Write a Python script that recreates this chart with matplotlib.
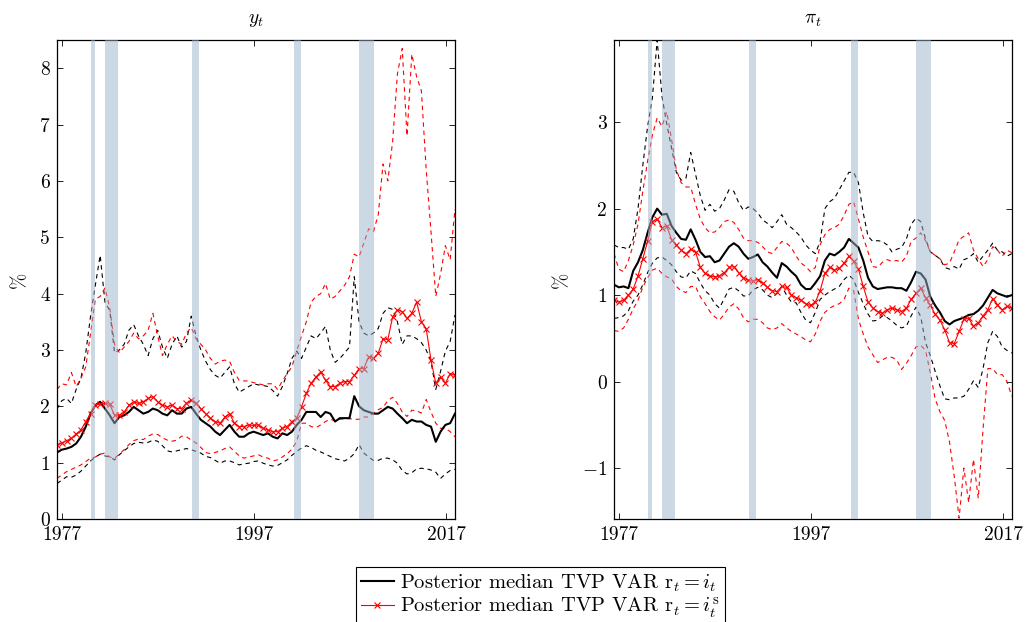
import matplotlib.pyplot as plt
import numpy as np

plt.rcParams['font.family'] = 'serif'
plt.rcParams['font.serif'] = ['cmr10']
plt.rcParams['mathtext.fontset'] = 'cm'
plt.rcParams['axes.unicode_minus'] = False

# half-year observations, 1976:H2 .. 2017:H2
dates = np.linspace(1976.5, 2017.9, 84)

# NBER recessions
recessions = [(1980.0, 1980.5), (1981.5, 1982.85), (1990.55, 1991.25),
              (2001.2, 2001.9), (2007.95, 2009.5)]

# y_t panel, r_t = i_t (black)
y_med_i = [1.18, 1.23, 1.25, 1.28, 1.34, 1.46, 1.64, 1.87, 2.02, 2.08,
           1.96, 1.84, 1.70, 1.81, 1.84, 1.90, 1.99, 1.93, 1.87, 1.90,
           1.96, 1.93, 1.87, 1.84, 1.93, 1.87, 1.87, 1.96, 1.99, 1.87,
           1.76, 1.70, 1.64, 1.55, 1.49, 1.58, 1.67, 1.55, 1.46, 1.46,
           1.52, 1.55, 1.52, 1.49, 1.52, 1.46, 1.43, 1.52, 1.49, 1.55,
           1.67, 1.76, 1.90, 1.90, 1.90, 1.81, 1.90, 1.87, 1.73, 1.79,
           1.79, 1.79, 2.18, 2.00, 1.93, 1.90, 1.87, 1.87, 1.93, 1.99,
           1.96, 1.87, 1.79, 1.70, 1.76, 1.73, 1.73, 1.67, 1.64, 1.37,
           1.55, 1.67, 1.70, 1.87]
y_lo_i = [0.63, 0.69, 0.75, 0.74, 0.78, 0.85, 0.94, 1.03, 1.10, 1.15,
          1.12, 1.10, 1.05, 1.14, 1.21, 1.28, 1.34, 1.36, 1.35, 1.36,
          1.40, 1.38, 1.30, 1.21, 1.19, 1.21, 1.23, 1.25, 1.23, 1.20,
          1.17, 1.11, 1.09, 1.04, 0.99, 1.03, 1.03, 1.00, 0.96, 0.98,
          0.99, 1.02, 1.03, 0.99, 0.96, 0.94, 0.95, 1.00, 1.05, 1.13,
          1.20, 1.26, 1.30, 1.27, 1.22, 1.19, 1.15, 1.11, 1.07, 1.05,
          1.03, 1.08, 1.16, 1.32, 1.17, 1.10, 1.04, 1.04, 1.08, 1.08,
          1.05, 0.99, 0.86, 0.80, 0.82, 0.89, 0.90, 0.89, 0.87, 0.83,
          0.72, 0.80, 0.86, 0.88]
y_hi_i = [1.95, 2.10, 2.14, 2.05, 2.30, 2.50, 2.95, 3.60, 4.15, 4.68,
          3.85, 3.70, 2.95, 3.00, 3.10, 3.35, 3.45, 3.25, 3.10, 2.90,
          3.20, 3.35, 3.05, 2.85, 3.10, 3.25, 3.05, 3.15, 3.60, 3.25,
          3.00, 2.80, 2.65, 2.55, 2.50, 2.60, 2.70, 2.40, 2.25, 2.30,
          2.35, 2.40, 2.38, 2.37, 2.35, 2.28, 2.18, 2.35, 2.58, 2.85,
          2.98, 2.85, 3.05, 3.25, 3.20, 3.30, 3.42, 3.00, 2.78, 2.85,
          2.95, 3.05, 4.30, 3.50, 3.30, 3.25, 3.30, 3.38, 3.65, 3.75,
          3.72, 3.50, 3.10, 3.25, 3.25, 3.20, 3.13, 3.00, 2.80, 2.30,
          2.62, 2.98, 3.15, 3.62]

# y_t panel, r_t = i_t^s (red)
y_med_s = [1.31, 1.35, 1.39, 1.43, 1.51, 1.58, 1.73, 1.87, 2.02, 2.04,
           2.05, 2.04, 1.84, 1.84, 1.90, 2.02, 2.08, 2.05, 2.08, 2.14,
           2.17, 2.08, 2.02, 1.99, 2.02, 1.96, 1.96, 2.05, 2.11, 2.05,
           1.96, 1.87, 1.79, 1.73, 1.70, 1.81, 1.87, 1.70, 1.64, 1.64,
           1.67, 1.66, 1.67, 1.61, 1.58, 1.55, 1.55, 1.61, 1.64, 1.73,
           1.79, 1.99, 2.23, 2.41, 2.52, 2.61, 2.46, 2.35, 2.35, 2.41,
           2.44, 2.44, 2.55, 2.67, 2.67, 2.88, 2.85, 2.94, 3.20, 3.18,
           3.59, 3.71, 3.68, 3.56, 3.65, 3.85, 3.50, 3.38, 2.82, 2.41,
           2.52, 2.41, 2.58, 2.55]
y_lo_s = [0.72, 0.78, 0.84, 0.88, 0.92, 0.96, 1.02, 1.08, 1.10, 1.15,
          1.17, 1.10, 1.08, 1.15, 1.23, 1.32, 1.39, 1.42, 1.41, 1.47,
          1.51, 1.50, 1.44, 1.40, 1.38, 1.40, 1.47, 1.46, 1.40, 1.35,
          1.27, 1.18, 1.16, 1.18, 1.21, 1.25, 1.28, 1.20, 1.12, 1.08,
          1.10, 1.12, 1.14, 1.10, 1.08, 1.03, 1.05, 1.10, 1.16, 1.24,
          1.38, 1.70, 1.70, 1.64, 1.62, 1.67, 1.73, 1.77, 1.74, 1.77,
          1.78, 1.78, 1.77, 1.77, 1.81, 1.81, 1.88, 1.94, 1.98, 2.10,
          2.16, 2.05, 1.90, 1.82, 1.93, 1.92, 1.88, 2.12, 1.90, 1.70,
          1.61, 1.61, 1.55, 1.46]
y_hi_s = [2.30, 2.40, 2.38, 2.60, 2.35, 2.50, 2.70, 3.30, 3.90, 3.95,
          4.10, 3.75, 3.10, 2.95, 3.05, 3.15, 3.30, 3.20, 3.25, 3.35,
          3.65, 3.25, 2.90, 3.10, 3.25, 3.15, 3.10, 3.30, 3.40, 3.20,
          3.10, 3.00, 2.85, 2.75, 2.80, 2.82, 2.80, 2.60, 2.46, 2.45,
          2.45, 2.42, 2.40, 2.38, 2.40, 2.40, 2.30, 2.45, 2.58, 2.70,
          2.98, 3.25, 3.50, 3.85, 3.95, 4.00, 4.18, 3.90, 3.95, 4.05,
          4.15, 4.30, 4.70, 4.65, 4.90, 5.15, 5.10, 5.40, 6.30, 6.00,
          6.70, 7.90, 8.35, 6.80, 8.25, 7.85, 7.60, 6.20, 5.10, 3.95,
          4.35, 4.85, 4.60, 5.50]

# pi_t panel, r_t = i_t (black)
pi_med_i = [1.12, 1.09, 1.10, 1.08, 1.28, 1.38, 1.52, 1.72, 1.90, 2.00,
            1.93, 1.94, 1.80, 1.72, 1.65, 1.64, 1.76, 1.64, 1.50, 1.44,
            1.45, 1.38, 1.40, 1.48, 1.56, 1.60, 1.56, 1.48, 1.42, 1.44,
            1.47, 1.38, 1.33, 1.26, 1.20, 1.37, 1.33, 1.27, 1.22, 1.12,
            1.07, 1.07, 1.14, 1.22, 1.40, 1.48, 1.46, 1.50, 1.55, 1.65,
            1.60, 1.55, 1.40, 1.20, 1.10, 1.07, 1.08, 1.09, 1.09, 1.08,
            1.08, 1.05, 1.15, 1.27, 1.25, 1.18, 0.98, 0.88, 0.80, 0.70,
            0.66, 0.70, 0.72, 0.74, 0.77, 0.78, 0.82, 0.88, 0.97, 1.06,
            1.02, 1.00, 0.98, 1.00]
pi_lo_i = [0.73, 0.74, 0.76, 0.82, 0.93, 1.00, 1.12, 1.26, 1.37, 1.43,
           1.44, 1.40, 1.35, 1.27, 1.21, 1.20, 1.28, 1.25, 1.14, 1.05,
           1.00, 0.90, 0.85, 0.96, 1.07, 1.09, 1.05, 0.99, 0.99, 1.06,
           1.09, 1.06, 1.00, 0.97, 1.02, 1.10, 1.00, 0.92, 0.91, 0.80,
           0.71, 0.68, 0.80, 0.95, 1.00, 1.04, 1.07, 1.10, 1.18, 1.23,
           1.18, 1.03, 0.90, 0.78, 0.70, 0.71, 0.76, 0.74, 0.70, 0.65,
           0.62, 0.64, 0.76, 0.86, 0.75, 0.45, 0.30, 0.12, -0.05, -0.20,
           -0.21, -0.19, -0.19, -0.17, -0.09, 0.01, -0.07, 0.15, 0.45, 0.58,
           0.52, 0.40, 0.36, 0.33]
pi_hi_i = [1.58, 1.55, 1.55, 1.53, 1.65, 2.00, 2.50, 2.95, 3.28, 3.95,
           3.30, 2.98, 2.70, 2.42, 2.33, 2.35, 2.65, 2.40, 2.15, 1.98,
           2.05, 1.97, 2.00, 2.10, 2.22, 2.20, 2.07, 1.98, 2.02, 2.00,
           1.95, 1.87, 1.83, 1.78, 1.85, 1.93, 1.82, 1.78, 1.73, 1.67,
           1.58, 1.52, 1.48, 1.62, 2.00, 2.08, 2.12, 2.22, 2.32, 2.42,
           2.42, 2.30, 1.95, 1.68, 1.62, 1.63, 1.62, 1.58, 1.50, 1.53,
           1.55, 1.65, 1.82, 1.89, 1.85, 1.65, 1.50, 1.46, 1.42, 1.32,
           1.30, 1.33, 1.30, 1.41, 1.43, 1.48, 1.38, 1.45, 1.52, 1.60,
           1.52, 1.50, 1.45, 1.48]

# pi_t panel, r_t = i_t^s (red)
pi_med_s = [0.94, 0.92, 0.94, 1.00, 1.07, 1.22, 1.42, 1.62, 1.85, 1.88,
            1.78, 1.80, 1.64, 1.58, 1.52, 1.48, 1.53, 1.50, 1.32, 1.25,
            1.22, 1.21, 1.22, 1.26, 1.32, 1.33, 1.26, 1.20, 1.17, 1.16,
            1.18, 1.14, 1.09, 1.05, 1.04, 1.10, 1.09, 1.00, 0.97, 0.94,
            0.90, 0.88, 0.92, 1.05, 1.25, 1.32, 1.29, 1.31, 1.37, 1.45,
            1.39, 1.30, 1.10, 0.92, 0.85, 0.81, 0.79, 0.83, 0.85, 0.83,
            0.81, 0.85, 0.95, 1.02, 1.08, 0.97, 0.88, 0.78, 0.71, 0.60,
            0.45, 0.44, 0.58, 0.72, 0.73, 0.64, 0.68, 0.76, 0.83, 0.96,
            0.89, 0.83, 0.87, 0.85]
pi_lo_s = [0.59, 0.58, 0.62, 0.72, 0.84, 0.94, 1.09, 1.20, 1.29, 1.31,
           1.25, 1.21, 1.19, 1.10, 1.05, 1.03, 1.10, 1.10, 0.98, 0.90,
           0.81, 0.75, 0.71, 0.78, 0.86, 0.90, 0.84, 0.74, 0.69, 0.72,
           0.72, 0.68, 0.62, 0.60, 0.62, 0.67, 0.62, 0.58, 0.55, 0.52,
           0.48, 0.46, 0.55, 0.70, 0.80, 0.85, 0.88, 0.90, 0.95, 1.08,
           1.05, 0.72, 0.55, 0.40, 0.31, 0.22, 0.25, 0.28, 0.28, 0.25,
           0.14, 0.21, 0.30, 0.40, 0.42, 0.36, 0.10, -0.20, -0.35, -0.45,
           -0.70, -1.10, -1.58, -1.00, -1.40, -0.90, -1.35, -0.55, 0.15, 0.15,
           0.08, 0.08, 0.00, -0.17]
pi_hi_s = [1.48, 1.30, 1.27, 1.40, 1.58, 1.82, 2.20, 2.55, 2.85, 3.05,
           2.95, 3.12, 2.80, 2.45, 2.30, 2.25, 2.25, 2.05, 1.88, 1.78,
           1.72, 1.73, 1.78, 1.85, 1.87, 1.84, 1.76, 1.66, 1.63, 1.63,
           1.61, 1.56, 1.50, 1.48, 1.55, 1.62, 1.60, 1.55, 1.45, 1.37,
           1.33, 1.27, 1.32, 1.58, 1.70, 1.76, 1.78, 1.82, 1.92, 2.05,
           2.08, 1.88, 1.67, 1.50, 1.33, 1.32, 1.38, 1.41, 1.39, 1.40,
           1.38, 1.45, 1.62, 1.66, 1.72, 1.63, 1.50, 1.46, 1.42, 1.35,
           1.37, 1.50, 1.64, 1.68, 1.72, 1.52, 1.42, 1.33, 1.41, 1.56,
           1.52, 1.45, 1.52, 1.49]

x_ticks = [1977, 1997, 2017]
dash = (0, (4, 3.5))


def draw_panel(ax, title, med_i, lo_i, hi_i, med_s, lo_s, hi_s, ylim, yticks, yticklabels):
    ax.plot(dates, hi_i, color='black', lw=0.8, ls=dash)
    ax.plot(dates, lo_i, color='black', lw=0.8, ls=dash)
    ax.plot(dates, hi_s, color='red', lw=0.8, ls=dash)
    ax.plot(dates, lo_s, color='red', lw=0.8, ls=dash)
    l1, = ax.plot(dates, med_i, color='black', lw=1.5)
    l2, = ax.plot(dates, med_s, color='red', lw=0.8, marker='x', ms=4, mew=0.8)
    # recession shading sits on top of the lines, semi-transparent
    for a, b in recessions:
        ax.axvspan(a, b, color='#9bb3c9', alpha=0.5, lw=0, zorder=3)
    ax.set_xlim(1976.5, 2017.9)
    ax.set_ylim(*ylim)
    ax.set_xticks(x_ticks)
    ax.set_xticklabels([str(t) for t in x_ticks])
    ax.set_yticks(yticks)
    ax.set_yticklabels(yticklabels)
    ax.tick_params(direction='in', top=True, right=True, length=4, width=0.6,
                   labelsize=14, pad=5)
    for s in ax.spines.values():
        s.set_linewidth(0.9)
    ax.set_title(title, fontsize=14, pad=12)
    ax.set_ylabel('%', fontsize=14, labelpad=8)
    return l1, l2


fig = plt.figure(figsize=(10.27, 6.22), dpi=100)
ax1 = fig.add_axes([0.0555, 0.1656, 0.3875, 0.770])
ax2 = fig.add_axes([0.5979, 0.1656, 0.3873, 0.770])

h1, h2 = draw_panel(ax1, r'$y_t$', y_med_i, y_lo_i, y_hi_i, y_med_s, y_lo_s, y_hi_s,
                    (0, 8.5), range(0, 9), [str(v) for v in range(0, 9)])
draw_panel(ax2, r'$\pi_t$', pi_med_i, pi_lo_i, pi_hi_i, pi_med_s, pi_lo_s, pi_hi_s,
           (-1.59, 3.95), [-1, 0, 1, 2, 3], [r'$-1$', '0', '1', '2', '3'])

leg = fig.legend([h1, h2],
                 [r'Posterior median TVP VAR $\mathrm{r}_t = i_t$',
                  r'Posterior median TVP VAR $\mathrm{r}_t = i_t^{\mathrm{s}}$'],
                 loc='upper center', bbox_to_anchor=(0.526, 0.088), fontsize=14.8,
                 frameon=True, fancybox=False, edgecolor='black', framealpha=1,
                 handlelength=1.6, handletextpad=0.3, borderpad=0.25,
                 labelspacing=0.05, borderaxespad=0)
leg.get_frame().set_linewidth(0.8)

fig.savefig('out.png', dpi=100)
